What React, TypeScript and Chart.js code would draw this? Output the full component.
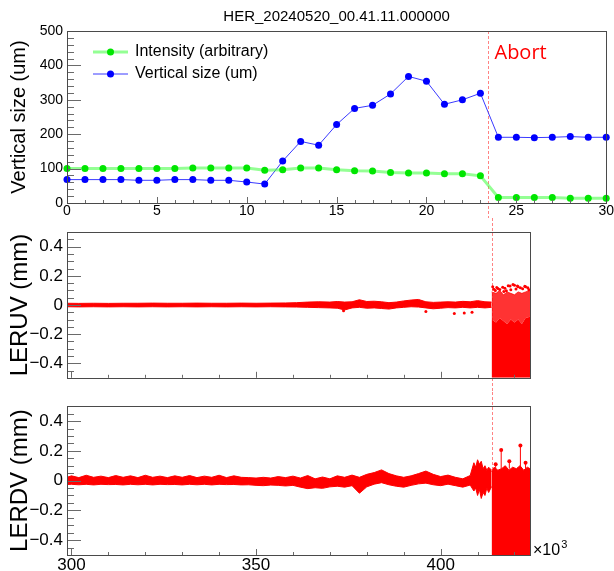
import React, { useEffect, useRef } from "react";
import { Chart, registerables } from "chart.js";
Chart.register(...registerables);

const FONT = "'Liberation Sans', Arial, Helvetica, sans-serif";

// ---------- top panel ----------
const TOP_TITLE = "HER_20240520_00.41.11.000000";
const TOP_Y_TITLE = "Vertical size (um)";
const LEGEND_LABELS = ["Intensity (arbitrary)", "Vertical size (um)"];
const ABORT_LABEL = "Abort";
const TIME_IDX = [0, 1, 2, 3, 4, 5, 6, 7, 8, 9, 10, 11, 12, 13, 14, 15, 16, 17, 18, 19, 20, 21, 22, 23, 24, 25, 26, 27, 28, 29, 30];
const INTENSITY = [100, 100, 100, 100, 100, 100, 100, 102, 102, 102, 102, 95, 97, 102, 102, 97, 94, 93, 89, 87, 87, 85, 85, 79, 16, 16, 16, 16, 14, 14, 14];
const VSIZE = [68, 68, 68, 68, 66, 66, 68, 68, 66, 66, 61, 55, 122, 179, 168, 228, 275, 284, 317, 368, 354, 287, 300, 319, 191, 191, 190, 191, 193, 191, 191];
const TOP_X_TICKS = [0, 5, 10, 15, 20, 25, 30];
const TOP_Y_TICKS = [0, 100, 200, 300, 400, 500];
const ABORT_TOP = 23.45;

// ---------- lower panels (x in 10^3 turns) ----------
const UV_TITLE = "LERUV (mm)";
const DV_TITLE = "LERDV (mm)";
const TURN_MIN = 298.8;
const TURN_MAX = 424.2;
const TURN_X_TICKS = [300, 350, 400];
const MM_TICKS = [-0.4, -0.2, 0, 0.2, 0.4];
const ABORT_TURN = 413.8;

const UV_X = [298.8, 302, 306, 310, 314, 318, 322, 326, 330, 334, 338, 342, 346, 350, 354, 358, 361, 364, 367, 370, 372, 374, 376, 378, 380, 382, 384, 386, 388, 390, 392, 394, 396, 398, 400, 402, 404, 406, 408, 410, 412, 413.8];
const UV_LO = [-0.012, -0.013, -0.012, -0.013, -0.012, -0.013, -0.012, -0.013, -0.012, -0.013, -0.012, -0.013, -0.012, -0.013, -0.012, -0.013, -0.014, -0.016, -0.018, -0.020, -0.022, -0.034, -0.020, -0.016, -0.022, -0.020, -0.024, -0.028, -0.020, -0.016, -0.012, -0.014, -0.020, -0.026, -0.022, -0.018, -0.020, -0.016, -0.020, -0.016, -0.020, -0.016];
const UV_HI = [0.012, 0.011, 0.012, 0.011, 0.012, 0.012, 0.013, 0.012, 0.012, 0.013, 0.012, 0.012, 0.013, 0.012, 0.013, 0.014, 0.016, 0.020, 0.022, 0.020, 0.024, 0.020, 0.022, 0.036, 0.024, 0.026, 0.022, 0.016, 0.020, 0.028, 0.034, 0.038, 0.022, 0.018, 0.020, 0.022, 0.020, 0.025, 0.022, 0.030, 0.022, 0.020];
const UV_OUT_X = [373.7, 396, 403.7, 406.4, 408.5];
const UV_OUT_Y = [-0.04, -0.045, -0.058, -0.055, -0.05];
const UV_POST_X = [413.8, 415, 416, 417, 418, 419, 420, 421, 422, 423, 424.2];
const UV_POST_MID = [-0.1, -0.12, -0.09, -0.11, -0.13, -0.1, -0.12, -0.1, -0.13, -0.09, -0.08];
const UV_POST_HI = [0.09, 0.08, 0.1, 0.07, 0.09, 0.08, 0.07, 0.09, 0.08, 0.09, 0.1];
const UV_SPARSE_X = [414.1, 415.5, 417.1, 418.3, 419.6, 421.0, 423.0, 414.8, 416.0, 417.8, 419.0, 420.4, 422.2, 423.6, 415.2, 418.8, 421.6, 416.8, 420.0, 422.8, 414.4, 417.4, 420.8, 423.9];
const UV_SPARSE_Y = [0.125, 0.114, 0.092, 0.132, 0.14, 0.125, 0.125, 0.1, 0.106, 0.098, 0.104, 0.11, 0.112, 0.118, 0.12, 0.13, 0.118, 0.122, 0.135, 0.128, 0.108, 0.115, 0.13, 0.105];

const DV_X = [298.8, 300, 302, 304, 306, 308, 310, 312, 314, 316, 318, 320, 322, 324, 326, 328, 330, 332, 334, 336, 338, 340, 342, 344, 346, 348, 350, 352, 354, 356, 358, 360, 362, 364, 366, 368, 370, 372, 374, 376, 378, 380, 382, 384, 386, 388, 390, 392, 394, 396, 398, 400, 402, 404, 406, 408, 409, 409.5, 410, 410.5, 411, 411.5, 412, 412.5, 413, 413.8];
const DV_LO = [-0.026, -0.025, -0.028, -0.025, -0.029, -0.025, -0.027, -0.026, -0.029, -0.025, -0.028, -0.025, -0.029, -0.025, -0.027, -0.026, -0.029, -0.025, -0.028, -0.025, -0.029, -0.025, -0.027, -0.026, -0.029, -0.028, -0.032, -0.034, -0.030, -0.032, -0.036, -0.032, -0.044, -0.054, -0.048, -0.052, -0.042, -0.038, -0.044, -0.034, -0.085, -0.042, -0.024, -0.014, -0.028, -0.038, -0.044, -0.032, -0.022, -0.017, -0.028, -0.034, -0.024, -0.034, -0.044, -0.030, -0.070, -0.050, -0.100, -0.060, -0.120, -0.080, -0.100, -0.050, -0.080, -0.040];
const DV_HI = [0.022, 0.032, 0.020, 0.036, 0.022, 0.030, 0.020, 0.034, 0.022, 0.032, 0.020, 0.036, 0.022, 0.030, 0.020, 0.032, 0.022, 0.034, 0.020, 0.030, 0.022, 0.036, 0.020, 0.032, 0.022, 0.020, 0.017, 0.022, 0.017, 0.027, 0.020, 0.030, 0.017, 0.034, 0.012, 0.024, 0.012, 0.032, 0.022, 0.037, 0.022, 0.042, 0.054, 0.072, 0.047, 0.032, 0.022, 0.032, 0.047, 0.064, 0.042, 0.027, 0.037, 0.022, 0.012, 0.034, 0.120, 0.090, 0.140, 0.110, 0.130, 0.080, 0.100, 0.070, 0.090, 0.070];
const DV_POST_X = [413.8, 414.5, 415.5, 416.5, 417.5, 418.5, 419.5, 420.5, 421.5, 422.5, 423.5, 424.2];
const DV_POST_HI = [0.06, 0.09, 0.07, 0.08, 0.1, 0.07, 0.09, 0.08, 0.1, 0.07, 0.09, 0.08];
const DV_SPIKE_X = [414.9, 416.4, 418.6, 421.6, 423.0];
const DV_SPIKE_BASE = [0.07, 0.07, 0.08, 0.08, 0.08];
const DV_SPIKE_Y = [0.11, 0.205, 0.13, 0.236, 0.12];

// ---------- plugins ----------
const rootFrame = {
  id: "rootFrame",
  afterDatasetsDraw(chart: any, _a: any, o: any) {
    const { ctx, chartArea: a } = chart;
    const xs = chart.scales.x;
    const ys = chart.scales.y;
    ctx.save();
    ctx.lineWidth = 1;
    ctx.strokeStyle = "#6a6a6a";
    ctx.beginPath();
    const isMajor = (v: number, m: number) => {
      const r = v / m;
      return Math.abs(r - Math.round(r)) < 1e-6;
    };
    const f1 = Math.ceil((ys.min - 1e-6) / o.yMinor);
    const l1 = Math.floor((ys.max + 1e-6) / o.yMinor);
    for (let k = f1; k <= l1; k++) {
      const v = k * o.yMinor;
      const len = isMajor(v, o.yMajor) ? o.yLen : o.yLen / 2;
      const p = Math.round(ys.getPixelForValue(v)) + 0.5;
      ctx.moveTo(a.left, p);
      ctx.lineTo(a.left + len, p);
    }
    const f2 = Math.ceil((xs.min - 1e-6) / o.xMinor);
    const l2 = Math.floor((xs.max + 1e-6) / o.xMinor);
    for (let k = f2; k <= l2; k++) {
      const v = k * o.xMinor;
      const len = isMajor(v, o.xMajor) ? o.xLen : o.xLen / 2;
      const p = Math.round(xs.getPixelForValue(v)) + 0.5;
      ctx.moveTo(p, a.bottom);
      ctx.lineTo(p, a.bottom - len);
    }
    ctx.stroke();
    ctx.strokeStyle = "#4a4a4a";
    ctx.strokeRect(Math.round(a.left) + 0.5, Math.round(a.top) + 0.5, Math.round(a.right - a.left), Math.round(a.bottom - a.top));
    ctx.restore();
  },
};

const abortLine = {
  id: "abortLine",
  beforeDatasetsDraw(chart: any, _a: any, o: any) {
    const { ctx, chartArea: a } = chart;
    const x = Math.round(chart.scales.x.getPixelForValue(o.x)) + 0.5;
    const y0 = o.fromTop ? a.top : 0;
    const y1 = o.toBottom ? a.bottom : chart.height;
    ctx.save();
    ctx.strokeStyle = "rgba(255,100,100,0.8)";
    ctx.lineWidth = 1;
    ctx.setLineDash([3, 2]);
    ctx.beginPath();
    ctx.moveTo(x, y0);
    ctx.lineTo(x, y1);
    ctx.stroke();
    ctx.restore();
  },
  afterDraw(chart: any, _a: any, o: any) {
    if (!o.label) return;
    const { ctx } = chart;
    const x = chart.scales.x.getPixelForValue(o.x);
    ctx.save();
    ctx.fillStyle = "#ff0000";
    ctx.font = "20px 'Open Sans'";
    ctx.textAlign = "left";
    ctx.textBaseline = "alphabetic";
    ctx.fillText(o.label, x + 6, 59);
    ctx.restore();
  },
};

const topLegend = {
  id: "topLegend",
  afterDraw(chart: any) {
    const { ctx } = chart;
    const rows = [52, 74];
    chart.data.datasets.forEach((ds: any, i: number) => {
      const y = rows[i];
      ctx.save();
      ctx.strokeStyle = ds.borderColor;
      ctx.lineWidth = ds.borderWidth;
      ctx.beginPath();
      ctx.moveTo(93, y);
      ctx.lineTo(128, y);
      ctx.stroke();
      ctx.fillStyle = ds.pointBackgroundColor;
      ctx.beginPath();
      ctx.arc(110.5, y, 3.5, 0, Math.PI * 2);
      ctx.fill();
      ctx.fillStyle = "#000";
      ctx.font = `16px ${FONT}`;
      ctx.textAlign = "left";
      ctx.textBaseline = "middle";
      ctx.fillText(ds.label, 135, y);
      ctx.restore();
    });
  },
};

const expLabel = {
  id: "expLabel",
  afterDraw(chart: any) {
    const { ctx, chartArea: a } = chart;
    ctx.save();
    ctx.fillStyle = "#000";
    ctx.textAlign = "left";
    ctx.textBaseline = "alphabetic";
    ctx.font = `16px ${FONT}`;
    const x0 = a.right + 3;
    const y0 = a.bottom;
    ctx.fillText("×10", x0, y0);
    const w = ctx.measureText("×10").width;
    ctx.font = `11px ${FONT}`;
    ctx.fillText("3", x0 + w + 1, y0 - 7);
    ctx.restore();
  },
};

const pts = (xs: number[], ys: number[]) => xs.map((x, i) => ({ x, y: ys[i] }));
const mmFmt = (v: number) => (v === 0 ? "0" : (v < 0 ? "\u2212" : "") + Math.abs(v).toFixed(1));
const RED = "#ff0000";

function lowerOptions(title: string, padTop: number, xH: number, showX: boolean, abortOpts: any) {
  return {
    responsive: false,
    animation: false,
    devicePixelRatio: 1,
    events: [],
    layout: { padding: { left: 0, right: 84, top: padTop, bottom: 0 }, autoPadding: false },
    plugins: {
      legend: { display: false },
      tooltip: { enabled: false },
      title: { display: false },
      rootFrame: { yMajor: 0.2, yMinor: 0.05, yLen: 14, xMajor: 50, xMinor: 10, xLen: 6 },
      abortLine: abortOpts,
    },
    scales: {
      x: {
        type: "linear",
        min: TURN_MIN,
        max: TURN_MAX,
        afterBuildTicks: (s: any) => { s.ticks = TURN_X_TICKS.map((v) => ({ value: v })); },
        afterFit: (s: any) => { s.height = xH; },
        grid: { display: false, drawTicks: false },
        border: { display: false },
        ticks: { display: showX, font: { family: FONT, size: 17 }, color: "#000", padding: 0, maxRotation: 0, autoSkip: false, callback: (v: any) => String(v) },
      },
      y: {
        min: -0.5,
        max: 0.5,
        afterBuildTicks: (s: any) => { s.ticks = MM_TICKS.map((v) => ({ value: v })); },
        afterFit: (s: any) => { s.width = 67; },
        grid: { display: false, drawTicks: false },
        border: { display: false },
        ticks: { font: { family: FONT, size: 17 }, color: "#000", padding: 4, callback: (v: any) => mmFmt(v) },
        title: { display: true, text: title, font: { family: FONT, size: 24 }, color: "#000", padding: { top: 6, bottom: 0 } },
      },
    },
  };
}

export default function App() {
  const c1 = useRef<HTMLCanvasElement>(null);
  const c2 = useRef<HTMLCanvasElement>(null);
  const c3 = useRef<HTMLCanvasElement>(null);

  useEffect(() => {
    const top = new Chart(c1.current as HTMLCanvasElement, {
      type: "line",
      data: {
        datasets: [
          {
            label: LEGEND_LABELS[0],
            data: pts(TIME_IDX, INTENSITY),
            borderColor: "rgba(60,255,60,0.55)",
            borderWidth: 3,
            pointBackgroundColor: "#00e600",
            pointBorderColor: "#00e600",
            pointBorderWidth: 0,
            pointRadius: 3.5,
            tension: 0,
            clip: false,
          },
          {
            label: LEGEND_LABELS[1],
            data: pts(TIME_IDX, VSIZE),
            borderColor: "#3a3aff",
            borderWidth: 1,
            pointBackgroundColor: "#0000ff",
            pointBorderColor: "#0000ff",
            pointBorderWidth: 0,
            pointRadius: 3.5,
            tension: 0,
            clip: false,
          },
        ],
      } as any,
      options: {
        responsive: false,
        animation: false,
        devicePixelRatio: 1,
        events: [],
        layout: { padding: { left: 0, right: 4, top: 0, bottom: 0 }, autoPadding: false },
        plugins: {
          legend: { display: false },
          tooltip: { enabled: false },
          title: {
            display: true,
            text: TOP_TITLE,
            font: { family: FONT, size: 15, weight: "normal" },
            color: "#000",
            padding: { top: 8, bottom: 5 },
            fullSize: false,
          },
          rootFrame: { yMajor: 100, yMinor: 20, yLen: 14, xMajor: 5, xMinor: 1, xLen: 6 },
          abortLine: { x: ABORT_TOP, fromTop: true, toBottom: false, label: ABORT_LABEL },
        },
        scales: {
          x: {
            type: "linear",
            min: 0,
            max: 30,
            afterBuildTicks: (s: any) => { s.ticks = TOP_X_TICKS.map((v) => ({ value: v })); },
            afterFit: (s: any) => { s.height = 15; },
            grid: { display: false, drawTicks: false },
            border: { display: false },
            ticks: { font: { family: FONT, size: 14 }, color: "#000", padding: 0, maxRotation: 0, autoSkip: false },
          },
          y: {
            min: 0,
            max: 500,
            afterBuildTicks: (s: any) => { s.ticks = TOP_Y_TICKS.map((v) => ({ value: v })); },
            afterFit: (s: any) => { s.width = 67; },
            grid: { display: false, drawTicks: false },
            border: { display: false },
            ticks: { font: { family: FONT, size: 14 }, color: "#000", padding: 4 },
            title: { display: true, text: TOP_Y_TITLE, font: { family: FONT, size: 20 }, color: "#000", padding: { top: 7, bottom: 0 } },
          },
        },
      } as any,
      plugins: [rootFrame, abortLine, topLegend] as any,
    });

    const uv = new Chart(c2.current as HTMLCanvasElement, {
      type: "line",
      data: {
        datasets: [
          { data: pts(UV_X, UV_LO), borderColor: RED, borderWidth: 1, pointRadius: 0, fill: false },
          { data: pts(UV_X, UV_HI), borderColor: RED, borderWidth: 1, pointRadius: 0, fill: "-1", backgroundColor: RED },
          { data: pts(UV_POST_X, UV_POST_MID), borderColor: "rgba(255,0,0,0)", borderWidth: 0, pointRadius: 0, fill: { value: -0.7 }, backgroundColor: RED },
          { data: pts(UV_POST_X, UV_POST_HI), borderColor: "rgba(255,0,0,0.7)", borderWidth: 1, pointRadius: 0, fill: "-1", backgroundColor: "rgba(255,0,0,0.8)" },
          { data: pts(UV_SPARSE_X, UV_SPARSE_Y), showLine: false, pointRadius: 1.5, pointBorderWidth: 0, pointBackgroundColor: RED },
          { data: pts(UV_OUT_X, UV_OUT_Y), showLine: false, pointRadius: 1.5, pointBorderWidth: 0, pointBackgroundColor: RED },
        ],
      } as any,
      options: lowerOptions(UV_TITLE, 10, 12, false, { x: ABORT_TURN, fromTop: false, toBottom: false }) as any,
      plugins: [rootFrame, abortLine] as any,
    });

    const spikeData: any[] = [];
    DV_SPIKE_X.forEach((x, i) => {
      spikeData.push({ x, y: DV_SPIKE_BASE[i] }, { x, y: DV_SPIKE_Y[i] }, { x, y: null });
    });

    const dv = new Chart(c3.current as HTMLCanvasElement, {
      type: "line",
      data: {
        datasets: [
          { data: pts(DV_X, DV_LO), borderColor: RED, borderWidth: 1, pointRadius: 0, fill: false },
          { data: pts(DV_X, DV_HI), borderColor: RED, borderWidth: 1, pointRadius: 0, fill: "-1", backgroundColor: RED },
          { data: pts(DV_POST_X, DV_POST_HI), borderColor: RED, borderWidth: 1, pointRadius: 0, fill: { value: -0.7 }, backgroundColor: RED },
          {
            data: spikeData,
            borderColor: RED,
            borderWidth: 1,
            spanGaps: false,
            pointRadius: (c: any) => (c.dataIndex % 3 === 1 ? 2 : 0),
            pointBorderWidth: 0,
            pointBackgroundColor: RED,
          },
        ],
      } as any,
      options: lowerOptions(DV_TITLE, 13, 16, true, { x: ABORT_TURN, fromTop: false, toBottom: true }) as any,
      plugins: [rootFrame, abortLine, expLabel] as any,
    });

    return () => {
      top.destroy();
      uv.destroy();
      dv.destroy();
    };
  }, []);

  return (
    <div style={{ position: "absolute", left: 0, top: 0, width: 614, height: 571, background: "#fff" }}>
      <canvas ref={c1} width={614} height={218} style={{ display: "block" }} />
      <canvas ref={c2} width={614} height={174} style={{ display: "block" }} />
      <canvas ref={c3} width={614} height={179} style={{ display: "block" }} />
    </div>
  );
}
